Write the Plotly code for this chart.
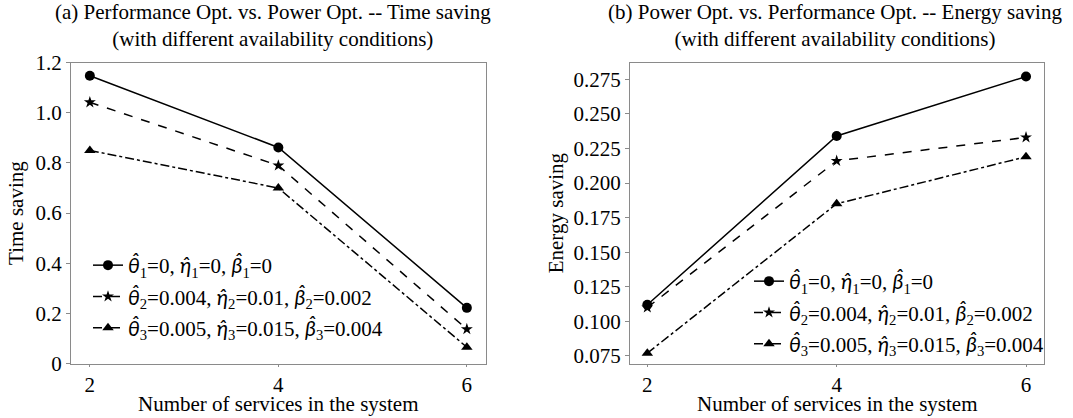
import plotly.graph_objects as go

# ---- data ----
services = [2, 4, 6]

time_s1 = [1.148, 0.862, 0.222]
time_s2 = [1.042, 0.790, 0.137]
time_s3 = [0.850, 0.700, 0.065]

energy_s1 = [0.112, 0.234, 0.277]
energy_s2 = [0.110, 0.216, 0.233]
energy_s3 = [0.077, 0.185, 0.219]

GREEK_FONT = "Lato"


def hat(ch, k):
    return f"<span style=\"font-family:'{GREEK_FONT}'\"><i>{ch}\u0302</i></span><sub>{k}</sub>"


series_names = [
    f"{hat('θ', 1)}=0, {hat('η', 1)}=0, {hat('β', 1)}=0",
    f"{hat('θ', 2)}=0.004, {hat('η', 2)}=0.01, {hat('β', 2)}=0.002",
    f"{hat('θ', 3)}=0.005, {hat('η', 3)}=0.015, {hat('β', 3)}=0.004",
]

left_yticks = [0, 0.2, 0.4, 0.6, 0.8, 1.0, 1.2]
left_yticktext = ["0", "0.2", "0.4", "0.6", "0.8", "1.0", "1.2"]
right_yticks = [0.075, 0.100, 0.125, 0.150, 0.175, 0.200, 0.225, 0.250, 0.275]
right_yticktext = ["0.075", "0.100", "0.125", "0.150", "0.175", "0.200", "0.225", "0.250", "0.275"]
x_ticks = [2, 4, 6]

title_a = "(a) Performance Opt. vs. Power Opt. -- Time saving<br>(with different availability conditions)"
title_b = "(b) Power Opt. vs. Performance Opt. -- Energy saving<br>(with different availability conditions)"
x_title = "Number of services in the system"

FONT = "Liberation Serif"
FS = 21
W, H = 1073, 418

styles = [
    dict(dash="solid", symbol="circle", size=10),
    dict(dash="dash", symbol="star", size=9),
    dict(dash="dashdot", symbol="triangle-up", size=10),
]

fig = go.Figure()

for i, ys in enumerate([time_s1, time_s2, time_s3]):
    st = styles[i]
    fig.add_trace(go.Scatter(
        x=services, y=ys, mode="lines+markers", name=series_names[i],
        line=dict(color="black", width=1.5, dash=st["dash"]),
        marker=dict(color="black", symbol=st["symbol"], size=st["size"]),
        xaxis="x", yaxis="y", legend="legend", legendgroup=f"a{i}",
    ))

for i, ys in enumerate([energy_s1, energy_s2, energy_s3]):
    st = styles[i]
    fig.add_trace(go.Scatter(
        x=services, y=ys, mode="lines+markers", name=series_names[i],
        line=dict(color="black", width=1.5, dash=st["dash"]),
        marker=dict(color="black", symbol=st["symbol"], size=st["size"]),
        xaxis="x2", yaxis="y2", legend="legend2", legendgroup=f"b{i}",
    ))

ydom = [1 - 363.5 / H, 1 - 62.7 / H]
xdom_a = [71 / W, 485.7 / W]
xdom_b = [630 / W, 1044 / W]

axis_common = dict(
    showline=True, linecolor="#8a8a8a", linewidth=1, mirror=True,
    ticks="outside", ticklen=4, tickcolor="#8a8a8a",
    showgrid=False, zeroline=False, automargin=False,
    tickfont=dict(family=FONT, size=FS, color="black"),
)
xaxis_extra = dict(ticklen=2)


def text_ann(text, xc, yc, yanchor="middle"):
    return dict(text=text, x=xc / W, y=1 - yc / H, xref="paper", yref="paper",
                xanchor="center", yanchor=yanchor, showarrow=False,
                font=dict(family=FONT, size=FS, color="black"))


fig.update_layout(
    template="none",
    width=W, height=H,
    margin=dict(l=0, r=0, t=0, b=0, autoexpand=False),
    paper_bgcolor="white", plot_bgcolor="white",
    font=dict(family=FONT, size=FS, color="black"),
    showlegend=True,
    xaxis=dict(domain=xdom_a, range=[1.8, 6.2], tickvals=x_ticks, anchor="y",
               **{**axis_common, **xaxis_extra}),
    yaxis=dict(domain=ydom, range=[0, 1.2], tickvals=left_yticks,
               ticktext=left_yticktext, anchor="x",
               title=dict(text="Time saving", font=dict(family=FONT, size=FS),
                          standoff=6),
               **axis_common),
    xaxis2=dict(domain=xdom_b, range=[1.817, 6.19], tickvals=x_ticks, anchor="y2",
                **{**axis_common, **xaxis_extra}),
    yaxis2=dict(domain=ydom, range=[0.0695, 0.287], tickvals=right_yticks,
                ticktext=right_yticktext, anchor="x2",
                title=dict(text="Energy saving", font=dict(family=FONT, size=FS),
                           standoff=4),
                **axis_common),
    legend=dict(x=88 / W, y=1 - 245 / H, xanchor="left", yanchor="top",
                bgcolor="rgba(0,0,0,0)", font=dict(family=FONT, size=FS),
                traceorder="grouped", tracegroupgap=1, itemwidth=30),
    legend2=dict(x=749 / W, y=1 - 261 / H, xanchor="left", yanchor="top",
                 bgcolor="rgba(0,0,0,0)", font=dict(family=FONT, size=FS),
                 traceorder="grouped", tracegroupgap=1, itemwidth=30),
    annotations=[
        text_ann(title_a, 273, 25.5),
        text_ann(title_b, 835, 25.5),
        text_ann(x_title, 278, 418, yanchor="bottom"),
        text_ann(x_title, 837, 418, yanchor="bottom"),
    ],
)

fig.write_html("out.html", config={"displayModeBar": False},
               post_script="document.body.style.margin='0';")
